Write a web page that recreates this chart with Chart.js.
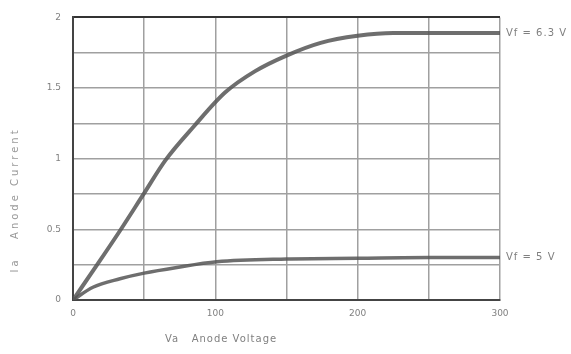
<!DOCTYPE html>
<html>
<head>
<meta charset="utf-8">
<script src="https://cdn.jsdelivr.net/npm/chart.js@4"></script>
<style>
  html, body { margin: 0; padding: 0; background: #fff; }
  #wrap { width: 571px; height: 354px; position: relative; }
</style>
</head>
<body>
<div id="wrap"><canvas id="curvas"></canvas></div>
<script>
// Valores (Va en voltios, Ia en amperios)
const va63 = [0, 17, 33, 49, 65, 85, 107, 128, 150, 174, 200, 225, 250, 300];
const ia63 = [0, 0.25, 0.49, 0.74, 0.99, 1.23, 1.47, 1.62, 1.73, 1.82, 1.87, 1.89, 1.89, 1.89];
const va5 = [0, 14, 33, 50, 73, 101, 150, 200, 250, 300];
const ia5 = [0, 0.09, 0.15, 0.19, 0.23, 0.27, 0.29, 0.295, 0.30, 0.30];
const etiquetas = ['Vf = 6.3 V', 'Vf = 5 V'];
const tituloX = 'Va   Anode Voltage';
const tituloY = 'Ia   Anode Current';

const GRIS_TXT = '#808080';
const FUENTE = '"DejaVu Sans", sans-serif';

function puntos(xs, ys) {
    return xs.map((x, i) => ({ x, y: ys[i] }));
}

// etiquetas de las curvas a la derecha + títulos de ejes
const rotulos = {
    id: 'rotulos',
    afterDraw(chart) {
        const { ctx, chartArea, scales } = chart;
        ctx.save();
        ctx.fillStyle = GRIS_TXT;
        ctx.font = '10px ' + FUENTE;
        ctx.letterSpacing = '1px';
        ctx.textBaseline = 'middle';
        ctx.textAlign = 'left';
        chart.data.datasets.forEach(ds => {
            const last = ds.data[ds.data.length - 1];
            ctx.fillText(ds.label, chartArea.right + 6, scales.y.getPixelForValue(last.y));
        });
        // título del eje X
        ctx.textAlign = 'center';
        ctx.fillText(tituloX, scales.x.getPixelForValue(104), 339);
        // título del eje Y (vertical, de abajo hacia arriba)
        ctx.translate(15, 200);
        ctx.rotate(-Math.PI / 2);
        ctx.letterSpacing = '3px';
        ctx.fillStyle = '#999';
        ctx.fillText(tituloY, 0, 0);
        ctx.restore();
    }
};

new Chart(document.getElementById('curvas'), {
    type: 'line',
    data: {
        datasets: [
            {
                label: etiquetas[0],
                data: puntos(va63, ia63),
                borderColor: 'rgba(85,85,85,0.85)',
                borderWidth: 4,
                pointRadius: 0,
                cubicInterpolationMode: 'monotone',
                fill: false
            },
            {
                label: etiquetas[1],
                data: puntos(va5, ia5),
                borderColor: 'rgba(85,85,85,0.85)',
                borderWidth: 3.5,
                pointRadius: 0,
                cubicInterpolationMode: 'monotone',
                fill: false
            }
        ]
    },
    options: {
        responsive: true,
        maintainAspectRatio: false,
        animation: false,
        layout: { padding: { top: 16, right: 71, left: 0, bottom: 0 } },
        plugins: { legend: { display: false }, tooltip: { enabled: false } },
        scales: {
            x: {
                type: 'linear',
                min: 0, max: 300,
                afterFit: s => { s.height = 54; },
                ticks: {
                    stepSize: 50,
                    color: GRIS_TXT,
                    font: { size: 9, family: FUENTE },
                    padding: 8,
                    maxRotation: 0,
                    callback: v => (v % 100 === 0 ? String(v) : '')
                },
                grid: { color: '#a0a0a0', lineWidth: 1.5, drawTicks: false },
                border: { color: '#444', width: 2 }
            },
            y: {
                min: 0, max: 2,
                afterFit: s => { s.width = 73; },
                ticks: {
                    stepSize: 0.25,
                    color: GRIS_TXT,
                    font: { size: 9, family: FUENTE },
                    padding: 12,
                    callback: v => (Math.abs(v * 2 - Math.round(v * 2)) < 1e-6 ? String(v) : '')
                },
                grid: {
                    color: ctx => (ctx.tick && ctx.tick.value === 2 ? '#333' : '#a0a0a0'),
                    lineWidth: ctx => (ctx.tick && ctx.tick.value === 2 ? 2 : 1.5),
                    drawTicks: false
                },
                border: { color: '#444', width: 2 }
            }
        }
    },
    plugins: [rotulos]
});
</script>
</body>
</html>
